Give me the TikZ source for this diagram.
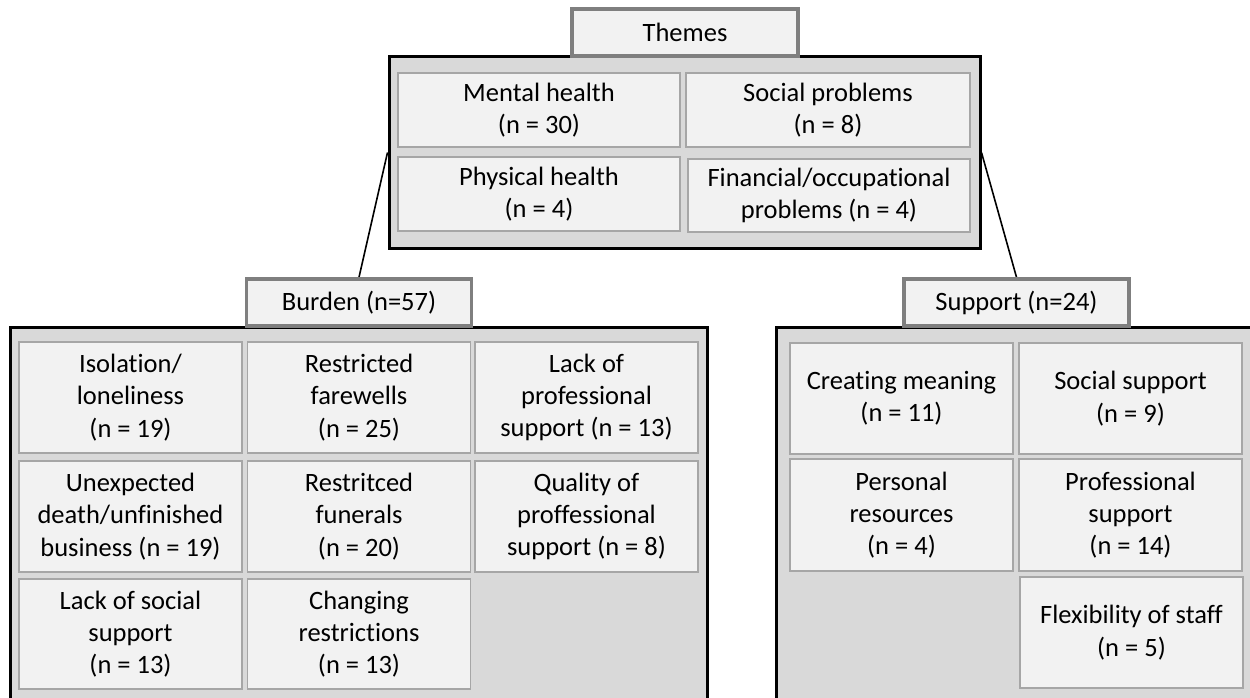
\documentclass[tikz,border=0pt]{standalone}
\usepackage{fontspec}
\setmainfont{Carlito}[RawFeature={-liga;-calt;-clig}]
\usepackage{tikz}
\usetikzlibrary{backgrounds}

\definecolor{headgray}{HTML}{7F7F7F}
\definecolor{boxgray}{HTML}{A6A6A6}
\definecolor{lightfill}{HTML}{F2F2F2}
\definecolor{groupfill}{HTML}{D9D9D9}

\tikzset{
  header/.style={rectangle, draw=headgray, fill=lightfill, line width=3.5pt,
    minimum width=225pt, minimum height=47pt, inner sep=0pt},
  group/.style={rectangle, draw=black, fill=groupfill, line width=3pt, inner sep=0pt},
  item/.style={rectangle, draw=boxgray, fill=lightfill, line width=1.8pt,
    align=center, inner sep=0pt},
  titem/.style={item, minimum width=282pt, minimum height=74pt},
  sitem/.style={item, minimum width=223pt, minimum height=111pt},
  link/.style={draw=black, line width=1.6pt}
}

\begin{document}
\begin{tikzpicture}[x=1pt, y=-1pt,
  font=\fontsize{26.5pt}{32.3pt}\selectfont]
\clip (0,0) rectangle (1250,698);

% themes
\node[group, minimum width=591pt, minimum height=191pt] (themesgroup) at (684.5,152.5) {};
\node[header, minimum width=226pt] (themes) at (685,32.5) {Themes};
\node[titem] (mental) at (539,110) {Mental health\\(n = 30)};
\node[titem, minimum width=284pt] (social) at (828,110) {Social problems\\(n = 8)};
\node[titem] (physical) at (539,194) {Physical health\\(n = 4)};
\node[titem, minimum height=73pt] (financial) at (829,195.5) {Financial/occupational\\problems (n = 4)};

% burden
\node[group, minimum width=697pt, minimum height=420pt] (burdengroup) at (358.5,537) {};
\node[header] (burden) at (359,302.5) {Burden (n=57)};
\node[sitem] (isolation) at (130.5,397.5) {Isolation/\\loneliness\\(n = 19)};
\node[sitem] (farewells) at (359,397.5) {Restricted\\farewells\\(n = 25)};
\node[sitem] (lackprof) at (586.5,397.5) {Lack of\\professional\\support (n = 13)};
\node[sitem] (unexpected) at (130.5,516.5) {Unexpected\\death/unfinished\\business (n = 19)};
\node[sitem] (funerals) at (359,516.5) {Restritced\\funerals\\(n = 20)};
\node[sitem] (quality) at (586.5,516.5) {Quality of\\proffessional\\support (n = 8)};
\node[sitem, minimum height=110pt] (lacksocial) at (130.5,634) {Lack of social\\support\\(n = 13)};
\node[sitem, minimum height=110pt] (changing) at (359,634) {Changing\\restrictions\\(n = 13)};

% support
\node[group, minimum width=490pt, minimum height=420pt] (supportgroup) at (1021,537) {};
\node[header] (support) at (1016.5,302.5) {Support (n=24)};
\node[sitem] (meaning) at (901.5,398.5) {Creating meaning\\(n = 11)};
\node[sitem] (socialsup) at (1130.5,398.5) {Social support\\(n = 9)};
\node[sitem, minimum height=112pt] (personal) at (901.5,515) {Personal\\resources\\(n = 4)};
\node[sitem, minimum height=112pt] (profsup) at (1130.5,515) {Professional\\support\\(n = 14)};
\node[sitem] (flexibility) at (1131.5,632.5) {Flexibility of staff\\(n = 5)};

% connectors
\begin{scope}[on background layer]
\fill[white] (0,0) rectangle (1250,698);
\draw[link] (burden.north) -- (themesgroup.west);
\draw[link] (support.north) -- (themesgroup.east);
\end{scope}
\end{tikzpicture}
\end{document}
